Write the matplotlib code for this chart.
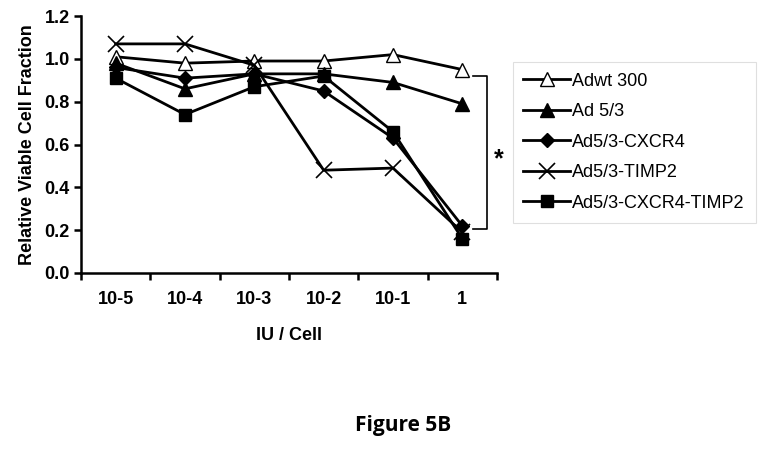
import matplotlib
matplotlib.use("Agg")
import matplotlib.pyplot as plt
import numpy as np

plt.rcParams["font.family"] = ["Liberation Sans", "DejaVu Sans"]

doses = ["10-5", "10-4", "10-3", "10-2", "10-1", "1"]
adwt300 = [1.01, 0.98, 0.99, 0.99, 1.02, 0.95]
ad53 = [0.98, 0.86, 0.93, 0.93, 0.89, 0.79]
ad53_cxcr4 = [0.96, 0.91, 0.93, 0.85, 0.63, 0.22]
ad53_timp2 = [1.07, 1.07, 0.97, 0.48, 0.49, 0.19]
ad53_cxcr4_timp2 = [0.91, 0.74, 0.87, 0.92, 0.66, 0.16]

series = [
    ("Adwt 300", adwt300, dict(marker="^", mfc="white", ms=10)),
    ("Ad 5/3", ad53, dict(marker="^", mfc="black", ms=10)),
    ("Ad5/3-CXCR4", ad53_cxcr4, dict(marker="D", mfc="black", ms=7)),
    ("Ad5/3-TIMP2", ad53_timp2, dict(marker="x", mfc="black", ms=12, mew=1.2)),
    ("Ad5/3-CXCR4-TIMP2", ad53_cxcr4_timp2, dict(marker="s", mfc="black", ms=9)),
]

fs = 13

fig = plt.figure(figsize=(7.64, 4.68), dpi=100)
ax = fig.add_axes([0.106, 0.4167, 0.5445, 0.549])

x = np.arange(len(doses)) + 0.5
for label, vals, style in series:
    ax.plot(x, vals, color="black", lw=2.0, mec="black", label=label, **style)

ax.set_xlim(0, len(doses))
ax.set_ylim(0, 1.2)
ax.set_xticks(np.arange(len(doses) + 1))
ax.set_xticklabels([])
ax.set_xticks(x, minor=True)
ax.set_xticklabels(doses, minor=True, fontweight="bold", fontsize=fs)
ax.tick_params(axis="x", which="minor", length=0, pad=13)
ax.tick_params(axis="x", which="major", length=5, width=1.8)
ax.set_yticks(np.arange(0, 1.21, 0.2))
ax.set_yticklabels([f"{v:.1f}" for v in np.arange(0, 1.21, 0.2)], fontweight="bold", fontsize=fs)
ax.tick_params(axis="y", length=5, width=1.8, pad=3)
for s in ["top", "right"]:
    ax.spines[s].set_visible(False)
for s in ["left", "bottom"]:
    ax.spines[s].set_linewidth(1.8)

ax.set_xlabel("IU / Cell", fontweight="bold", fontsize=fs, labelpad=14)
ax.set_ylabel("Relative Viable Cell Fraction", fontweight="bold", fontsize=fs, labelpad=6)

# significance bracket
bx0, bx1 = 5.65, 5.85
ax.plot([bx0, bx1, bx1, bx0], [0.92, 0.92, 0.205, 0.205], color="black", lw=1.2, clip_on=False)
ax.text(6.03, 0.53, "*", fontsize=18, fontweight="bold", ha="center", va="center")

leg = ax.legend(loc="upper left", bbox_to_anchor=(0.671, 0.868), bbox_transform=fig.transFigure,
                frameon=True, fancybox=False, fontsize=fs, handlelength=2.6,
                handletextpad=0.1, labelspacing=0.75, borderpad=0.6, borderaxespad=0)
leg.get_frame().set_edgecolor("#d8d8d8")
leg.get_frame().set_linewidth(0.8)

fig.text(0.527, 0.09, "Figure 5B", fontsize=15, fontweight="bold", ha="center", va="center",
         family=["Open Sans", "DejaVu Sans"])

fig.savefig("out.png", dpi=100)
